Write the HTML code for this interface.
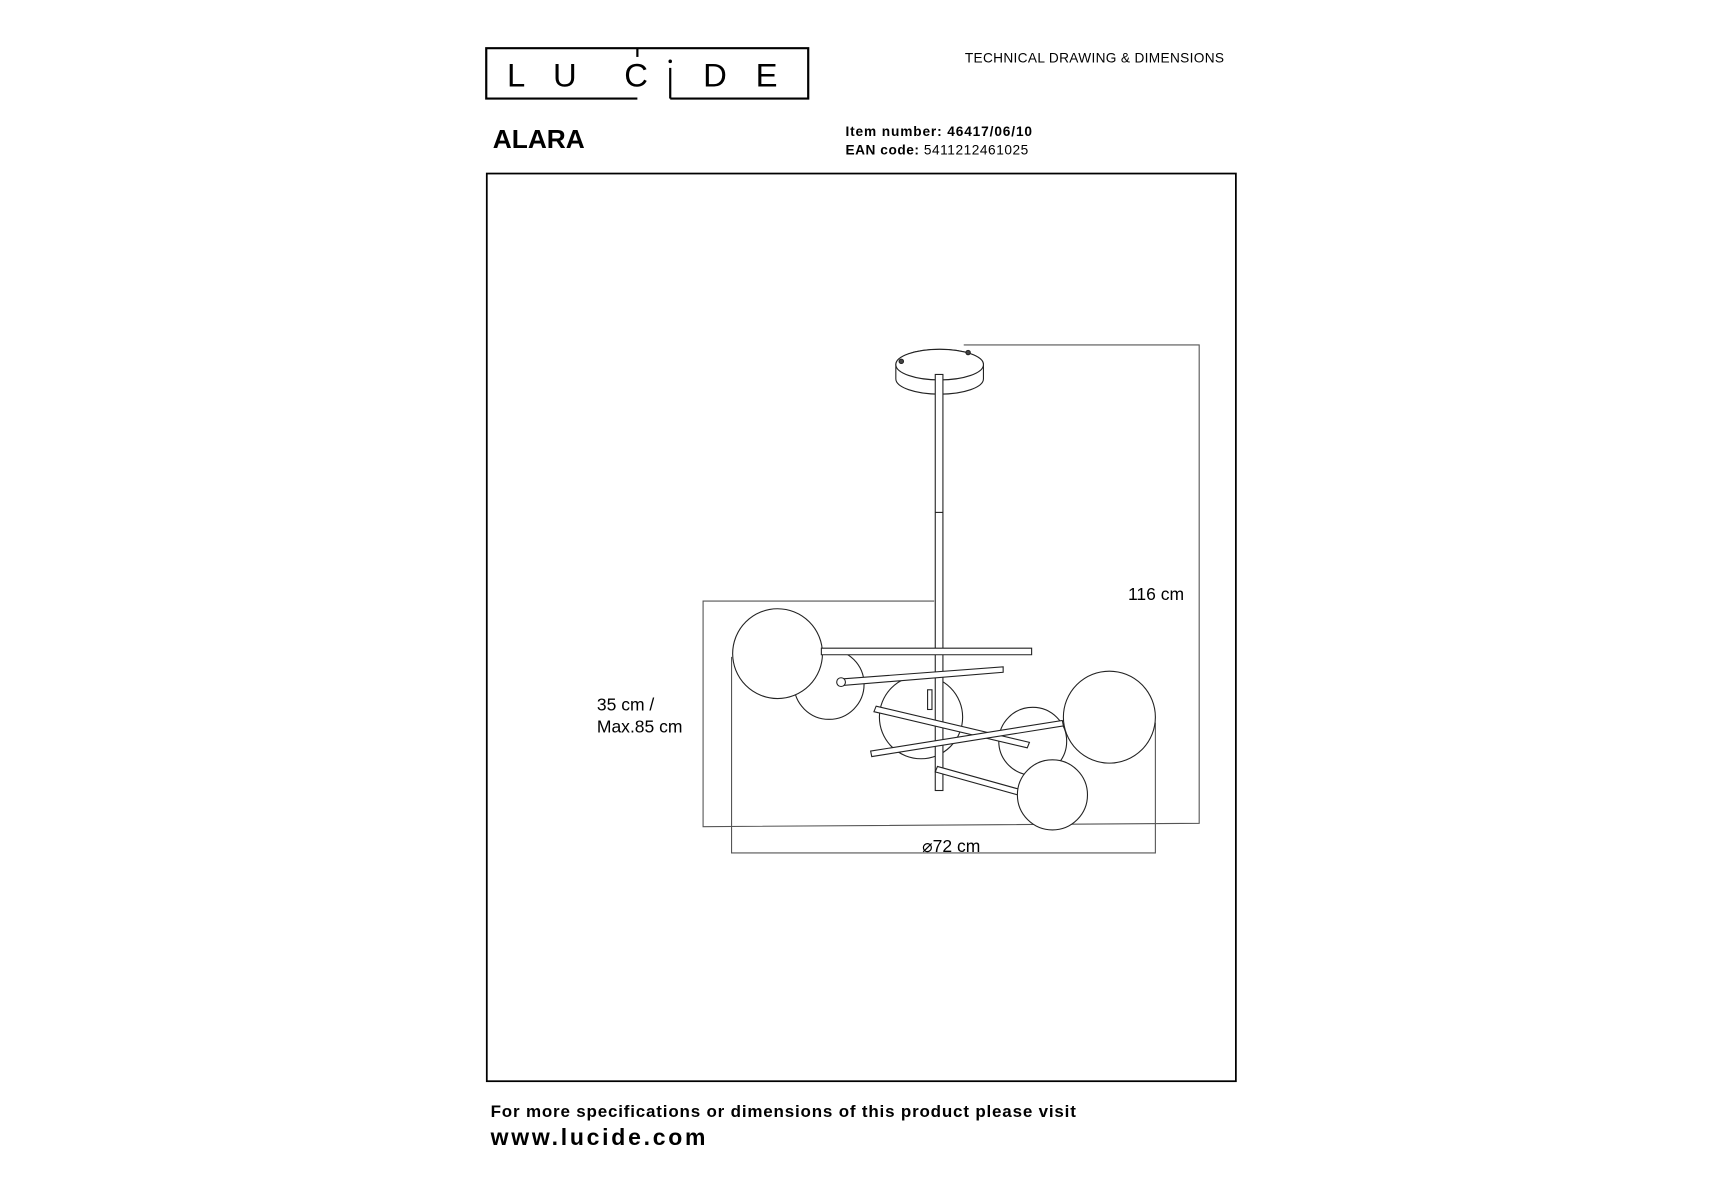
<!DOCTYPE html>
<html><head><meta charset="utf-8"><style>
html,body{margin:0;padding:0;background:#fff;width:1715px;height:1200px;overflow:hidden}
svg{display:block}
text{font-family:"Liberation Sans",Arial,sans-serif}
</style></head><body>
<svg width="1715" height="1200" viewBox="0 0 1566 1096" preserveAspectRatio="none" xmlns="http://www.w3.org/2000/svg">
<rect x="-10" y="-10" width="1600" height="1120" fill="#fff"/>
<!-- logo -->
<path d="M582 44 H738 V90 H612 M582 44 H444 V90 H582" fill="none" stroke="#000" stroke-width="2"/>
<line x1="612" y1="62" x2="612" y2="90" stroke="#000" stroke-width="2"/>
<circle cx="612" cy="56" r="1.6" fill="#000"/>
<line x1="582" y1="44" x2="582" y2="52" stroke="#000" stroke-width="2"/>
<text x="463" y="79" font-size="30" font-weight="300" fill="#000">L</text>
<text x="505" y="79" font-size="30" fill="#000">U</text>
<text x="570" y="79" font-size="30" fill="#000">C</text>
<text x="642" y="79" font-size="30" fill="#000">D</text>
<text x="690" y="79" font-size="30" fill="#000">E</text>
<text x="881" y="57" font-size="12.5" fill="#000" letter-spacing="0.3">TECHNICAL DRAWING &amp; DIMENSIONS</text>
<text x="450" y="135" font-size="24" font-weight="bold" fill="#000">ALARA</text>
<text x="772" y="124" font-size="12.5" font-weight="bold" fill="#000" letter-spacing="0.8">Item number: 46417/06/10</text>
<text x="772" y="141" font-size="12.5" fill="#000" letter-spacing="0.5"><tspan font-weight="bold">EAN code:</tspan> 5411212461025</text>
<rect x="444.5" y="158.5" width="684" height="829" fill="none" stroke="#000" stroke-width="1.6"/>
<text x="448" y="1020" font-size="15.5" font-weight="bold" fill="#000" letter-spacing="0.75">For more specifications or dimensions of this product please visit</text>
<text x="448" y="1046" font-size="21" font-weight="bold" fill="#000" letter-spacing="2.5">www.lucide.com</text>
<!-- dimension lines -->
<g fill="none" stroke="#555" stroke-width="1">
<path d="M880 315 H1095 V752 L642 755 V549 H853"/>
<path d="M668 600 V779 H1055 V660"/>
</g>
<text x="1030" y="548" font-size="16" fill="#000">116 cm</text>
<text x="545" y="649" font-size="16" fill="#000">35 cm /</text>
<text x="545" y="669" font-size="16" fill="#000">Max.85 cm</text>
<text x="842" y="778" font-size="16" fill="#000">⌀72 cm</text>
<!-- lamp -->
<g fill="#fff" stroke="#222" stroke-width="1">
<path d="M818 333 A40 14 0 0 1 898 333 V346 A40 14 0 0 1 818 346 Z"/>
<ellipse cx="858" cy="333" rx="40" ry="14"/>
<circle cx="823" cy="330" r="2" fill="#444"/><circle cx="884" cy="322" r="2" fill="#444"/>
<circle cx="757" cy="625" r="32"/>
<circle cx="841" cy="655" r="38"/>
<circle cx="943" cy="677" r="31"/>
<rect x="854" y="342" width="7" height="380"/>
<line x1="854" y1="468" x2="861" y2="468"/>
<path d="M770 620 L916 609 L916 614 L770 626 Z"/>
<circle cx="768" cy="623" r="4"/>
<path d="M800 645 L940 678 L938 683 L798 650 Z"/>
<path d="M795 686 L970 658 L971 663 L796 691 Z"/>
<path d="M856 700 L942 724 L940 729 L854 705 Z"/>
<rect x="847" y="630" width="4" height="18"/>
<circle cx="710" cy="597" r="41"/>
<path d="M750 592 L942 592 L942 598 L750 598 Z"/>
<circle cx="1013" cy="655" r="42"/>
<circle cx="961" cy="726" r="32"/>
</g>
</svg>
</body></html>
